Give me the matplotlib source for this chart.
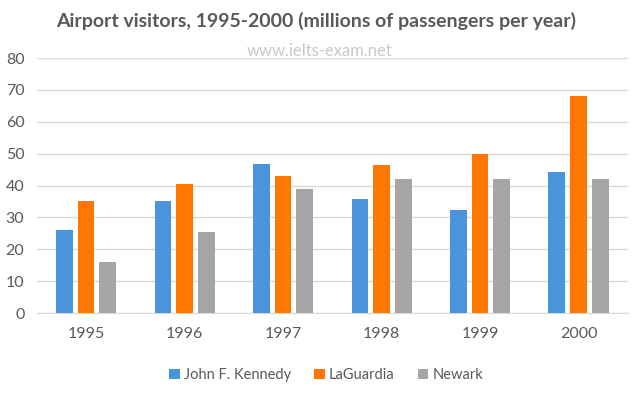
import numpy as np
import matplotlib.pyplot as plt

plt.rcParams['font.family'] = ['Lato', 'DejaVu Sans']

years = ['1995', '1996', '1997', '1998', '1999', '2000']
jfk = [26.1, 35.3, 46.9, 35.9, 32.2, 44.4]
laguardia = [35.3, 40.5, 43.0, 46.3, 50.0, 68.0]
newark = [15.9, 25.4, 38.9, 42.0, 42.0, 42.0]
series_names = ['John F. Kennedy', 'LaGuardia', 'Newark']
colors = ['#4A94DB', '#FF7700', '#A5A5A5']

fig = plt.figure(figsize=(6.36, 3.99), dpi=100)
ax = fig.add_axes([0.058, 0.2155, 0.929, 0.639])

x = np.arange(len(years))
w = 0.17
step = 0.22
for i, (vals, name) in enumerate(zip([jfk, laguardia, newark], series_names)):
    ax.bar(x + (i - 1) * step, vals, width=w, color=colors[i], label=name, zorder=3)

ax.set_xlim(-0.5, len(years) - 0.5)
ax.set_ylim(0, 80)
ax.set_yticks(range(0, 81, 10))
ax.set_xticks(x)
ax.set_xticklabels(years)
ax.yaxis.grid(True, color='#D9D9D9', linewidth=1, zorder=0)
for s in ['top', 'right', 'left']:
    ax.spines[s].set_visible(False)
ax.spines['bottom'].set_color('#D9D9D9')
ax.tick_params(axis='both', length=0, colors='#595959', labelsize=11.5)
ax.tick_params(axis='y', pad=9)
ax.tick_params(axis='x', pad=10)

fig.text(0.497, 0.948, 'Airport visitors, 1995-2000 (millions of passengers per year)',
         ha='center', va='center', fontsize=14, fontweight='bold', color='#595959')
fig.text(0.502, 0.872, 'www.ielts-exam.net', ha='center', va='center',
         fontsize=12, color='#C8C8C8')

ax.legend(loc='upper center', bbox_to_anchor=(0.49, -0.165), ncol=3, frameon=False,
          fontsize=10.5, handlelength=0.7, handleheight=0.7, handletextpad=0.3,
          columnspacing=1.6, labelcolor='#595959')

fig.savefig('out.png', dpi=100)
